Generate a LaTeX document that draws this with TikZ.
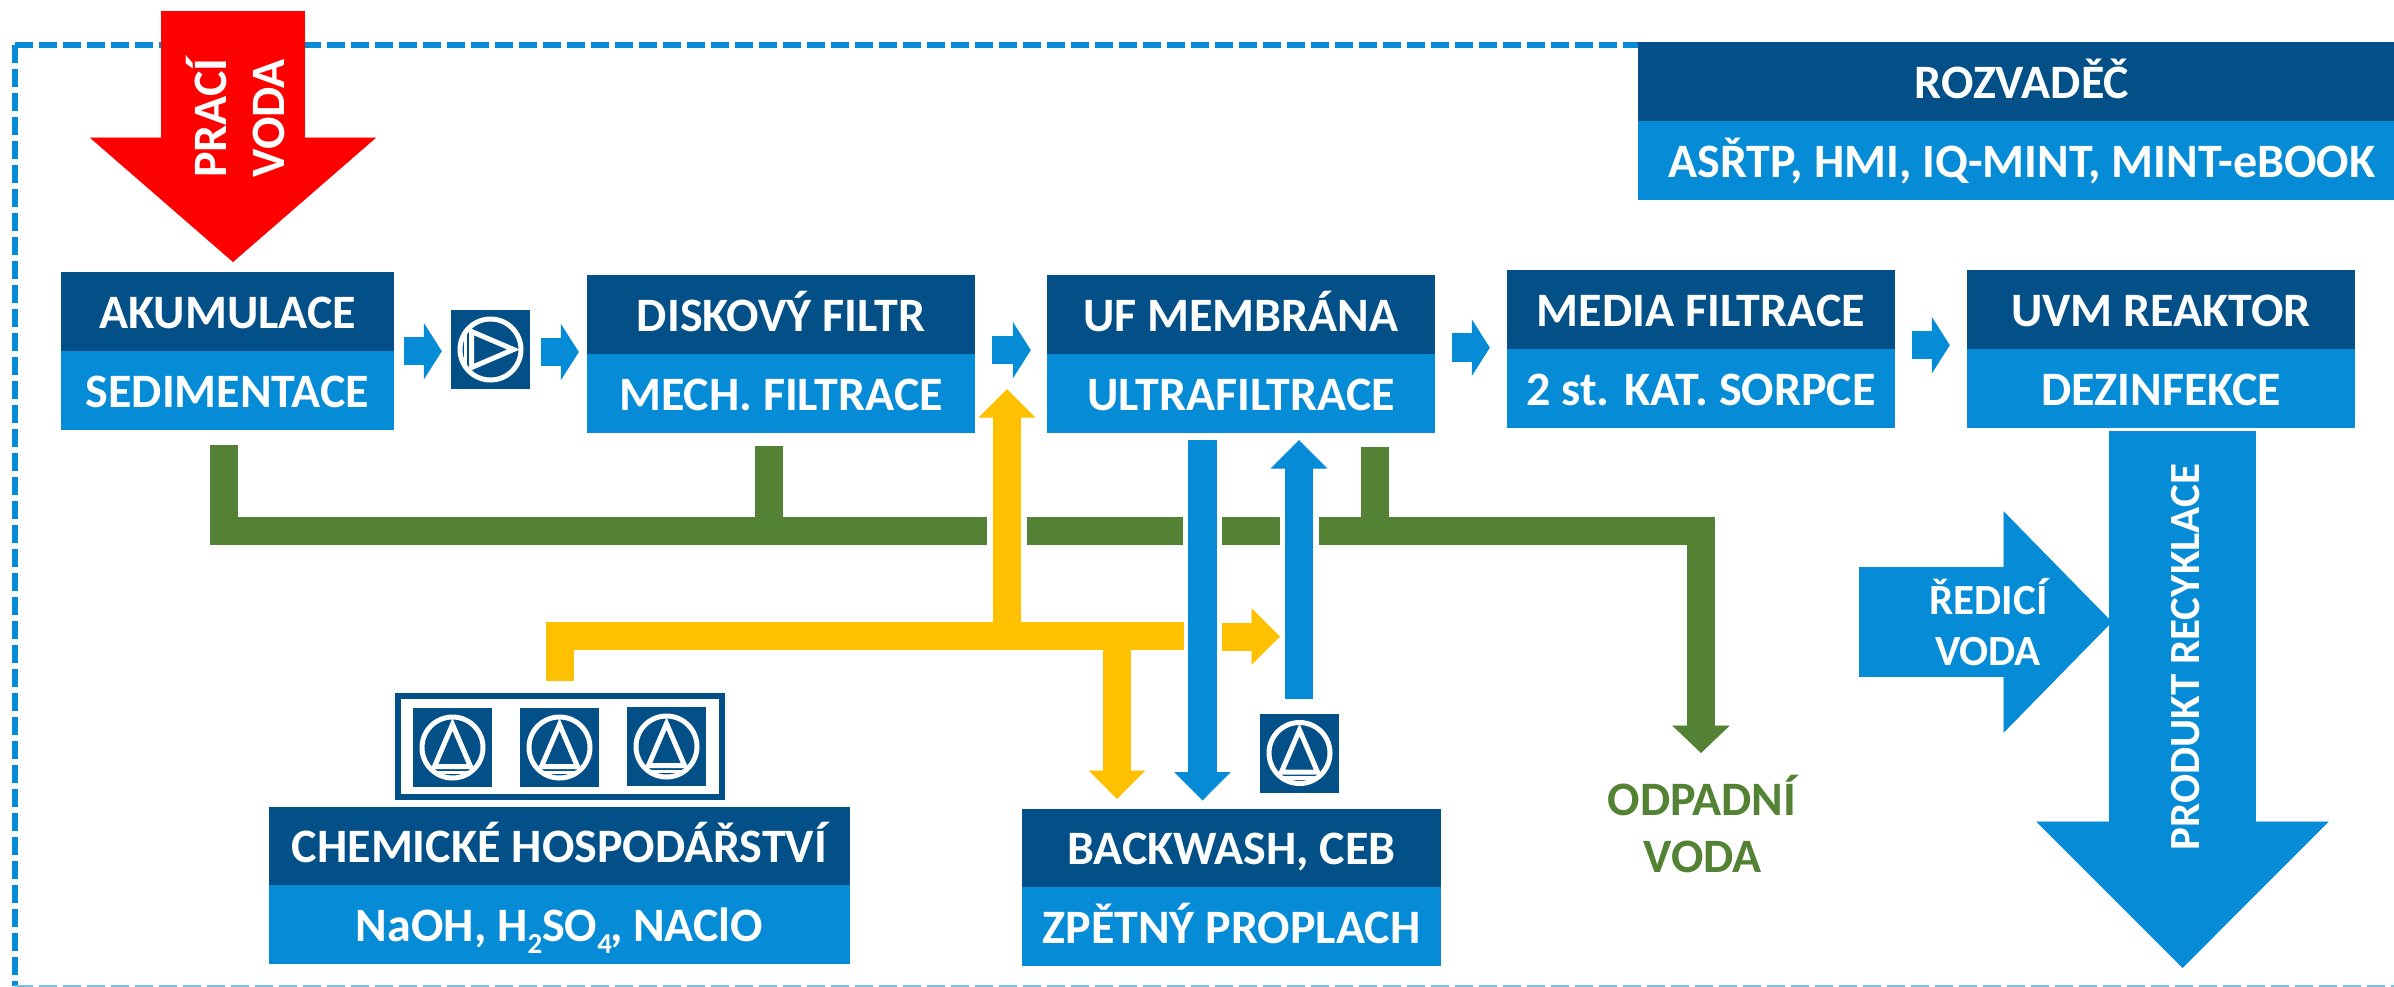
\documentclass[tikz,border=0pt]{standalone}
\usepackage{fontspec}
\setmainfont{Carlito}
\usetikzlibrary{arrows.meta,calc}
\definecolor{navy}{HTML}{025087}
\definecolor{azure}{HTML}{068BD6}
\definecolor{amber}{HTML}{FFC000}
\definecolor{leaf}{HTML}{548235}
\definecolor{alarm}{HTML}{FF0000}
\newcommand{\bigfont}{\fontsize{48}{56}\selectfont\bfseries}
\newcommand{\midfont}{\fontsize{43}{50}\selectfont\bfseries}
\newcommand{\subdigit}[1]{\raisebox{-12pt}{\fontsize{29}{29}\selectfont #1}}
\tikzset{
  x=1pt,y=-1pt,
  headbox/.style={rectangle,fill=navy,text=white,font=\bigfont,inner sep=0pt,minimum height=79pt,text height=33.5pt,text depth=0pt,align=center},
  subbox/.style={headbox,fill=azure},
  rotlabel/.style={font=\bigfont,text=white,rotate=90,inner sep=0pt,text height=33.5pt,text depth=0pt},
  plainlabel/.style={font=\bigfont,inner sep=0pt,text height=33.5pt,text depth=0pt},
  pumpbox/.style={rectangle,fill=navy,inner sep=0pt,minimum width=79pt,minimum height=79pt},
  smallarrow/.style={line width=28.5pt,draw=azure,-{Triangle[length=18pt,width=56.5pt,fill=azure,line width=0.8pt]}},
  yellowpipe/.style={line width=28pt,draw=amber,miter limit=10,line join=miter},
  yellowarrow/.style={yellowpipe,-{Triangle[length=28.5pt,width=56.5pt,fill=amber,line width=0.8pt]}},
  bluearrow/.style={line width=28.5pt,draw=azure,-{Triangle[length=28.5pt,width=56.5pt,fill=azure,line width=0.8pt]}},
  greenpipe/.style={line width=28pt,draw=leaf,line join=miter},
  greenarrow/.style={greenpipe,-{Triangle[length=27.5pt,width=57.5pt,fill=leaf,line width=0.8pt]}},
  frameline/.style={draw=azure,line width=6pt,dash pattern=on 18pt off 6pt},
  frameedge/.style={draw=azure!55,line width=2pt,dash pattern=on 18pt off 6pt},
  pumpright/.pic={
    \draw[white,line width=5pt] (0,0) circle[radius=30.5pt];
    \draw[white,line width=5pt,line join=miter] (23,0) -- (-19,-18) -- (-19,18) -- cycle;
    \draw[white,line width=3.5pt] (-25,-18) -- (-25,18);
  },
  pumpup/.pic={
    \draw[white,line width=5pt] (0,0) circle[radius=30.5pt];
    \draw[white,line width=5pt,line join=miter] (0,-23) -- (-18,19) -- (18,19) -- cycle;
    \draw[white,line width=3.5pt] (-18,25) -- (18,25);
  },
}
\begin{document}
\begin{tikzpicture}
\useasboundingbox (0,0) rectangle (2394,986);
\clip (0,0) rectangle (2394,986);

% dashed boundary
\coordinate (corner) at (15,45);
\coordinate (frameTop) at (1640,45);
\coordinate (frameLow) at (15,986);
\coordinate (frameEnd) at (2400,986);
\draw[frameline] (corner) -- (frameTop);
\draw[frameline] (corner) -- (frameLow);
\draw[frameedge] (frameLow) -- (frameEnd);

% process boxes
\node[headbox,minimum width=333pt] (akumT) at (227.5,311.5) {AKUMULACE};
\node[subbox,minimum width=333pt] (akumB) at (227.5,390.5) {SEDIMENTACE};
\node[headbox,minimum width=388pt] (diskT) at (781,314.5) {DISKOVÝ FILTR};
\node[subbox,minimum width=388pt] (diskB) at (781,393.5) {MECH. FILTRACE};
\node[headbox,minimum width=388pt] (ufT) at (1241,314.5) {UF MEMBRÁNA};
\node[subbox,minimum width=388pt] (ufB) at (1241,393.5) {ULTRAFILTRACE};
\node[headbox,minimum width=388pt] (mediaT) at (1701,309.5) {MEDIA FILTRACE};
\node[subbox,minimum width=388pt] (mediaB) at (1701,388.5) {2 st. KAT. SORPCE};
\node[headbox,minimum width=388pt] (uvmT) at (2161,309.5) {UVM REAKTOR};
\node[subbox,minimum width=388pt] (uvmB) at (2161,388.5) {DEZINFEKCE};
\node[headbox,minimum width=756pt] (rozT) at (2016,81.5) {\hspace*{12pt}ROZVADĚČ};
\node[subbox,minimum width=756pt] (rozB) at (2016,160.5) {\hspace*{12pt}ASŘTP, HMI, IQ-MINT, MINT-eBOOK};
\node[headbox,minimum width=581pt] (chemT) at (559.5,846) {CHEMICKÉ HOSPODÁŘSTVÍ};
\node[subbox,minimum width=581pt] (chemB) at (559.5,924.5) {NaOH, H\subdigit{2}SO\subdigit{4}\kern-2pt, NAClO};
\node[headbox,minimum width=419pt] (backT) at (1231.5,848) {BACKWASH, CEB};
\node[subbox,minimum width=419pt] (backB) at (1231.5,926.5) {ZPĚTNÝ PROPLACH};

% pumps
\node[pumpbox] (pumpA) at (490.5,349.5) {};
\pic at (pumpA.center) {pumpright};
\node[pumpbox] (pumpB) at (1299.5,753) {};
\pic at (pumpB.center) {pumpup};
\node[draw=navy,line width=6pt,inner sep=0pt,minimum width=323.5pt,minimum height=101pt] (chemFrame) at (559.75,746.5) {};
\node[pumpbox] (pumpC) at (452.5,747.5) {};
\pic at (pumpC.center) {pumpup};
\node[pumpbox] (pumpD) at (559.5,747.5) {};
\pic at (pumpD.center) {pumpup};
\node[pumpbox] (pumpE) at (666.5,746.5) {};
\pic at (pumpE.center) {pumpup};

% small process arrows
\draw[smallarrow,shorten <=10pt,shorten >=9pt] (akumT.south east) -- (akumT.south east -| pumpA.west);
\draw[smallarrow,shorten <=11pt,shorten >=8pt] ($(pumpA.east)+(0,2.5)$) -- ($(pumpA.east -| diskT.west)+(0,2.5)$);
\draw[smallarrow,shorten <=17pt,shorten >=16pt] ($(diskT.south east)+(0,-4)$) -- ($(diskT.south east -| ufT.west)+(0,-4)$);
\draw[smallarrow,shorten <=17pt,shorten >=17pt] ($(ufT.south east)+(0,-6.5)$) -- ($(ufT.south east -| mediaT.west)+(0,-6.5)$);
\draw[smallarrow,shorten <=17pt,shorten >=17pt] ($(mediaT.south east)+(0,-4)$) -- ($(mediaT.south east -| uvmT.west)+(0,-4)$);

% waste water lines (green)
\coordinate (g1) at (224,445);
\coordinate (g1e) at (987,531);
\coordinate (g2) at (769,446);
\coordinate (g2e) at (769,531);
\coordinate (g3) at (1375,447);
\coordinate (g3e) at (1375,531);
\coordinate (g4s) at (1027,531);
\coordinate (g4e) at (1183,531);
\coordinate (g5s) at (1222,531);
\coordinate (g5e) at (1280,531);
\coordinate (g6s) at (1319,531);
\coordinate (g6e) at (1701,753);
\draw[greenpipe] (g1) |- (g1e);
\draw[greenpipe] (g2) -- (g2e);
\draw[greenpipe] (g3) -- (g3e);
\draw[greenpipe] (g4s) -- (g4e);
\draw[greenpipe] (g5s) -- (g5e);
\draw[greenarrow] (g6s) -| (g6e);

% chemical lines (yellow)
\coordinate (y1) at (560,681);
\coordinate (y1e) at (1184,635.5);
\coordinate (y2s) at (1007,635.5);
\coordinate (y2e) at (1007,389);
\coordinate (y3s) at (1117,635.5);
\coordinate (y3e) at (1117,799);
\coordinate (y4s) at (1222,636.5);
\coordinate (y4e) at (1280,636.5);
\draw[yellowpipe] (y1) |- (y1e);
\draw[yellowarrow] (y2s) -- (y2e);
\draw[yellowarrow] (y3s) -- (y3e);
\draw[yellowarrow] (y4s) -- (y4e);

% backwash lines (blue)
\coordinate (b1s) at (1202.5,440);
\coordinate (b1e) at (1202.5,800.5);
\coordinate (b2s) at (1299,699);
\coordinate (b2e) at (1299,440);
\draw[bluearrow] (b1s) -- (b1e);
\draw[bluearrow] (b2s) -- (b2e);

% big arrows
\coordinate (rs) at (233,11);
\coordinate (re) at (233,262);
\draw[line width=144pt,draw=alarm,-{Triangle[length=124.5pt,width=286.5pt,fill=alarm,line width=0.8pt]}] (rs) -- (re);
\node[rotlabel] (praci) at (210,118) {PRACÍ};
\node[rotlabel] (voda1) at (268,118) {VODA};

\coordinate (ps) at (2182.5,431);
\coordinate (pe) at (2182.5,968);
\draw[line width=146.5pt,draw=azure,-{Triangle[length=146.5pt,width=292.5pt,fill=azure,line width=0.8pt]}] (ps) -- (pe);
\node[rotlabel,font=\midfont,text height=29pt] (produkt) at (2184.5,657) {PRODUKT RECYKLACE};

\coordinate (ds) at (1859,622);
\coordinate (de) at (2112,622);
\draw[line width=110pt,draw=azure,-{Triangle[length=108.5pt,width=221.5pt,fill=azure,line width=0.8pt]}] (ds) -- (de);
\node[plainlabel,font=\midfont,text=white,text height=29pt] (redici) at (1988.5,599.5) {ŘEDICÍ};
\node[plainlabel,font=\midfont,text=white,text height=29pt] (voda2) at (1988,650.5) {VODA};

% free label
\node[plainlabel,text=leaf] (odpadni) at (1702,799) {ODPADNÍ};
\node[plainlabel,text=leaf] (voda3) at (1703,856) {VODA};
\end{tikzpicture}
\end{document}
